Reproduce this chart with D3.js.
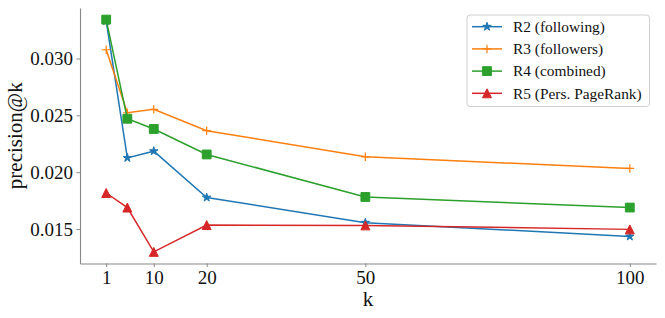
<!DOCTYPE html>
<html>
<head>
<meta charset="utf-8">
<script src="https://cdn.jsdelivr.net/npm/d3@7"></script>
<style>
  body { margin: 0; background: #fff; }
  svg text { font-family: "Liberation Serif", "DejaVu Serif", serif; fill: #111; }
</style>
</head>
<body>
<div id="wrapper"></div>
<script>
// values
const kValues = [1, 5, 10, 20, 50, 100];
const r2Following = [0.0333, 0.02126, 0.02185, 0.01777, 0.01556, 0.01435];
const r3Followers = [0.03077, 0.02523, 0.02553, 0.02365, 0.02135, 0.02033];
const r4Combined = [0.03342, 0.02470, 0.02380, 0.02156, 0.01782, 0.01689];
const r5PageRank = [0.01817, 0.01689, 0.01299, 0.01535, 0.01532, 0.01497];
const xTicks = [1, 10, 20, 50, 100];
const yTicks = [0.015, 0.020, 0.025, 0.030];
const seriesNames = ["R2 (following)", "R3 (followers)", "R4 (combined)", "R5 (Pers. PageRank)"];

// marker shapes similar to matplotlib's
const plusType = {
    draw(ctx, size) {
        const r = Math.sqrt(size) / 2;
        ctx.moveTo(-r, 0); ctx.lineTo(r, 0);
        ctx.moveTo(0, -r); ctx.lineTo(0, r);
    }
};
const triType = {
    draw(ctx, size) {
        const r = Math.sqrt(size) / 2;
        ctx.moveTo(0, -r); ctx.lineTo(r, r); ctx.lineTo(-r, r); ctx.closePath();
    }
};

const series = [
    { name: seriesNames[0], values: r2Following, color: "#1f77b4", type: d3.symbolStar, size: 22, fill: true },
    { name: seriesNames[1], values: r3Followers, color: "#ff7f0e", type: plusType, size: 72, fill: false },
    { name: seriesNames[2], values: r4Combined, color: "#2ca02c", type: d3.symbolSquare, size: 78, fill: true },
    { name: seriesNames[3], values: r5PageRank, color: "#d62728", type: triType, size: 80, fill: true }
];

const dimensions = {
    width: 665,
    height: 318,
    margin: { top: 8, right: 9, bottom: 54.5, left: 80 }
};
dimensions.boundedwidth = dimensions.width - dimensions.margin.left - dimensions.margin.right;
dimensions.boundedheight = dimensions.height - dimensions.margin.top - dimensions.margin.bottom;

const wrapper = d3.select("#wrapper")
    .append("svg")
    .attr("width", dimensions.width)
    .attr("height", dimensions.height);

const bounds = wrapper.append("g")
    .attr("transform", `translate(${dimensions.margin.left}, ${dimensions.margin.top})`);

// 5% padding like matplotlib
const pad = ([lo, hi]) => [lo - (hi - lo) * 0.05, hi + (hi - lo) * 0.05];
const allY = series.flatMap(s => s.values);

const xScale = d3.scaleLinear()
    .domain(pad(d3.extent(kValues)))
    .range([0, dimensions.boundedwidth]);

const yScale = d3.scaleLinear()
    .domain(pad(d3.extent(allY)))
    .range([dimensions.boundedheight, 0]);

// axes
const xAxisGenerator = d3.axisBottom(xScale)
    .tickValues(xTicks)
    .tickFormat(d3.format("d"))
    .tickSize(3.5).tickPadding(3.5).tickSizeOuter(0);
const yAxisGenerator = d3.axisLeft(yScale)
    .tickValues(yTicks)
    .tickFormat(d3.format(".3f"))
    .tickSize(3.5).tickPadding(3.5).tickSizeOuter(0);

const xAxis = bounds.append("g")
    .attr("transform", `translate(0, ${dimensions.boundedheight})`)
    .call(xAxisGenerator);
const yAxis = bounds.append("g")
    .call(yAxisGenerator);

[xAxis, yAxis].forEach(ax => {
    ax.attr("font-family", null).attr("font-size", null);
    ax.select(".domain").attr("stroke", "#888").attr("stroke-width", 1.1);
    ax.selectAll(".tick line").attr("stroke", "#888").attr("stroke-width", 1);
    ax.selectAll(".tick text").style("font-size", "19px").attr("fill", "#111");
});

// lines and markers
const lineGenerator = d3.line()
    .x((d, i) => xScale(kValues[i]))
    .y(d => yScale(d));

series.forEach(s => {
    bounds.append("path")
        .datum(s.values)
        .attr("d", lineGenerator)
        .attr("fill", "none")
        .attr("stroke", s.color)
        .attr("stroke-width", 1.5);

    bounds.selectAll(null)
        .data(s.values)
        .enter()
        .append("path")
        .attr("transform", (d, i) => `translate(${xScale(kValues[i])}, ${yScale(d)})`)
        .attr("d", d3.symbol().type(s.type).size(s.size))
        .attr("fill", s.fill ? s.color : "none")
        .attr("stroke", s.color)
        .attr("stroke-width", s.fill ? 1 : 1.2);
});

// labels
wrapper.append("text")
    .attr("x", dimensions.margin.left + dimensions.boundedwidth / 2)
    .attr("y", 306)
    .attr("text-anchor", "middle")
    .style("font-size", "21px")
    .text("k");

wrapper.append("text")
    .attr("transform", `translate(22, ${dimensions.margin.top + dimensions.boundedheight / 2}) rotate(-90)`)
    .attr("text-anchor", "middle")
    .style("font-size", "21px")
    .text("precision@k");

// legend
const legend = wrapper.append("g")
    .attr("transform", "translate(467, 15)");

legend.append("rect")
    .attr("width", 182.5)
    .attr("height", 91.5)
    .attr("rx", 3)
    .attr("fill", "rgba(255,255,255,0.8)")
    .attr("stroke", "#d0d0d0")
    .attr("stroke-width", 1);

series.forEach((s, i) => {
    const y = 11.7 + i * 22.2;
    legend.append("line")
        .attr("x1", 5).attr("x2", 35)
        .attr("y1", y).attr("y2", y)
        .attr("stroke", s.color)
        .attr("stroke-width", 1.5);
    legend.append("path")
        .attr("transform", `translate(20, ${y})`)
        .attr("d", d3.symbol().type(s.type).size(s.size))
        .attr("fill", s.fill ? s.color : "none")
        .attr("stroke", s.color)
        .attr("stroke-width", s.fill ? 1 : 1.2);
    legend.append("text")
        .attr("x", 46)
        .attr("y", y)
        .attr("dy", "0.34em")
        .style("font-size", "15.4px")
        .text(s.name);
});
</script>
</body>
</html>
